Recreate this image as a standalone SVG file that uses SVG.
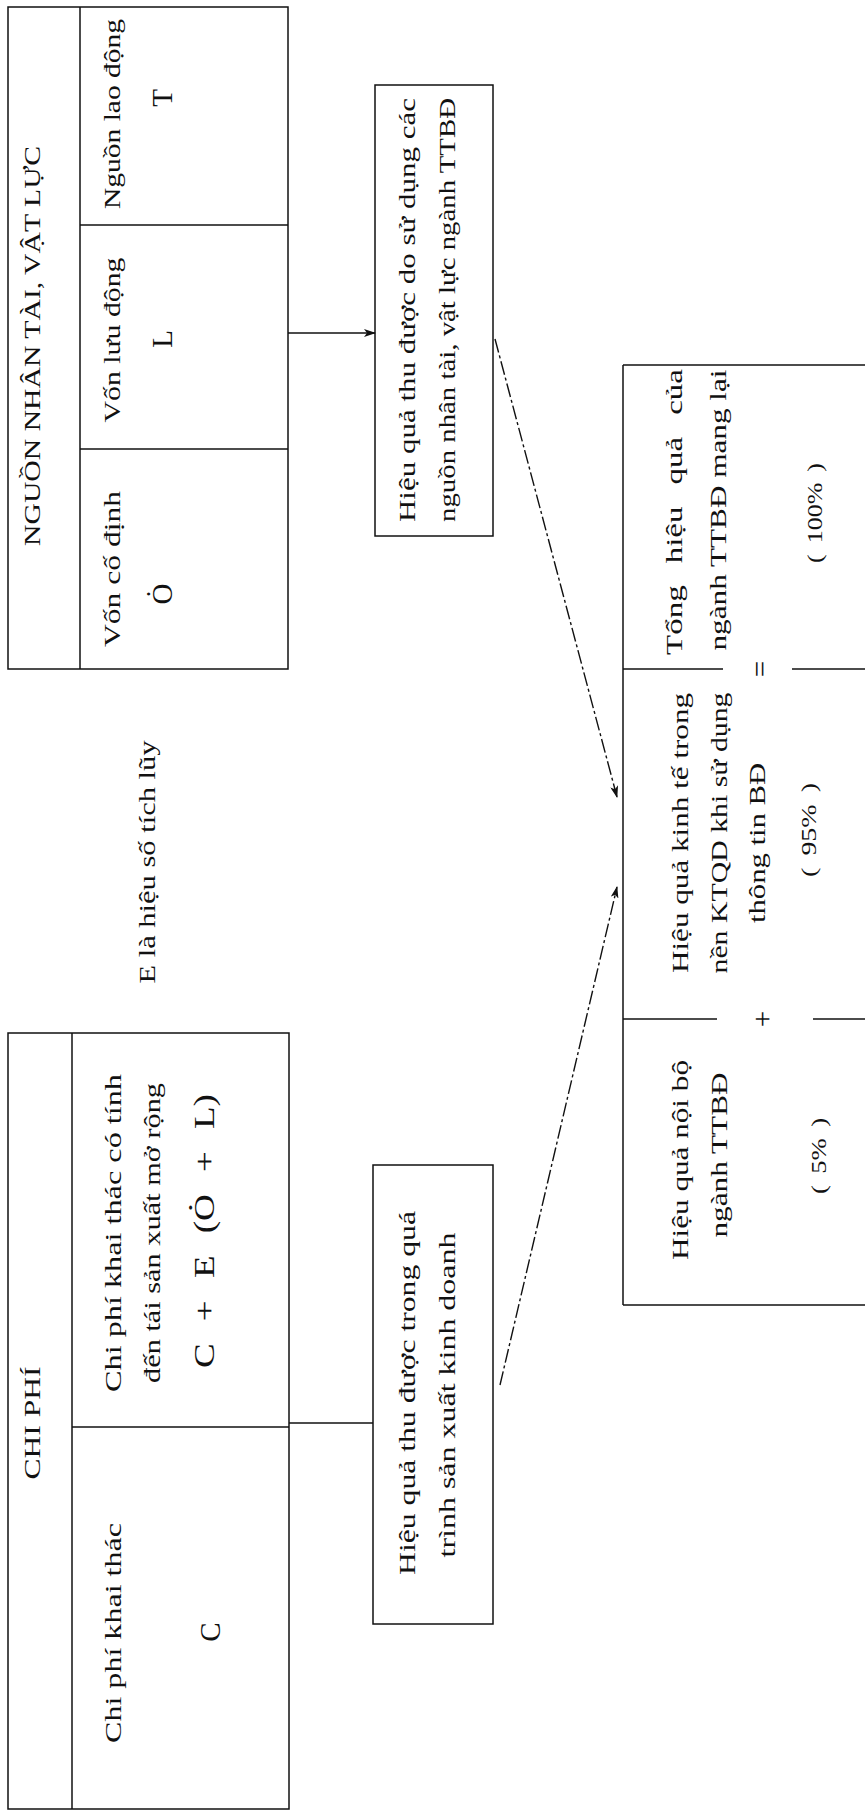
<svg xmlns="http://www.w3.org/2000/svg" width="865" height="1816" viewBox="0 0 865 1816">
<style>
.b{fill:none;stroke:#111;stroke-width:1.5}
.l{stroke:#111;stroke-width:1.5;fill:none}
.d{stroke:#111;stroke-width:1.4;fill:none;stroke-dasharray:14 3 3 3}
.t{font-family:"Liberation Serif","DejaVu Serif",serif;fill:#111;font-size:24px}
.h{font-family:"Liberation Serif","DejaVu Serif",serif;fill:#111;font-size:23px}
.p{font-family:"Liberation Serif","DejaVu Serif",serif;fill:#111;font-size:22px;word-spacing:4px}
.s{font-family:"Liberation Serif","DejaVu Serif",serif;fill:#111;font-size:29px}
</style>
<defs>
<marker id="ah" markerWidth="12" markerHeight="8" refX="11" refY="4" orient="auto" markerUnits="userSpaceOnUse">
<path d="M0,0 L12,4 L0,8 L3,4 Z" fill="#111"/>
</marker>
</defs>
<rect width="865" height="1816" fill="#fff"/>

<g id="nguon-nhan-tai">
<rect class="b" x="8" y="7" width="280" height="662"/>
<line class="l" x1="80" y1="7" x2="80" y2="669"/>
<line class="l" x1="80" y1="225" x2="288" y2="225"/>
<line class="l" x1="80" y1="449" x2="288" y2="449"/>
<text class="h" text-anchor="middle" transform="translate(40,346) rotate(-90)" textLength="400" lengthAdjust="spacingAndGlyphs">NGUỒN NHÂN TÀI, VẬT LỰC</text>
<text class="t" text-anchor="middle" transform="translate(120,114) rotate(-90)" textLength="190" lengthAdjust="spacingAndGlyphs">Nguồn lao động</text>
<text class="s" text-anchor="middle" transform="translate(172,98) rotate(-90)">T</text>
<text class="t" text-anchor="middle" transform="translate(120,340) rotate(-90)" textLength="165" lengthAdjust="spacingAndGlyphs">Vốn lưu động</text>
<text class="s" text-anchor="middle" transform="translate(172,339) rotate(-90)">L</text>
<text class="t" text-anchor="middle" transform="translate(120,569) rotate(-90)" textLength="156" lengthAdjust="spacingAndGlyphs">Vốn cố định</text>
<text class="s" text-anchor="middle" transform="translate(172,594) rotate(-90)">Ȯ</text>
</g>

<g id="chi-phi">
<rect class="b" x="8" y="1033" width="281" height="776"/>
<line class="l" x1="72" y1="1033" x2="72" y2="1809"/>
<line class="l" x1="72" y1="1427" x2="289" y2="1427"/>
<text class="h" text-anchor="middle" transform="translate(40,1423) rotate(-90)" textLength="113" lengthAdjust="spacingAndGlyphs">CHI PHÍ</text>
<text class="t" text-anchor="middle" transform="translate(121,1233) rotate(-90)" textLength="318" lengthAdjust="spacingAndGlyphs">Chi phí khai thác có tính</text>
<text class="t" text-anchor="middle" transform="translate(160,1233) rotate(-90)" textLength="300" lengthAdjust="spacingAndGlyphs">đến tái sản xuất mở rộng</text>
<text class="s" text-anchor="middle" style="word-spacing:10px" transform="translate(214,1231) rotate(-90)" textLength="274" lengthAdjust="spacingAndGlyphs">C + E (Ȯ + L)</text>
<text class="t" text-anchor="middle" transform="translate(121,1633) rotate(-90)" textLength="220" lengthAdjust="spacingAndGlyphs">Chi phí khai thác</text>
<text class="s" text-anchor="middle" transform="translate(220,1632) rotate(-90)">C</text>
</g>

<g id="ghi-chu">
<text class="t" text-anchor="middle" transform="translate(155,862) rotate(-90)" textLength="243" lengthAdjust="spacingAndGlyphs">E là hiệu số tích lũy</text>
</g>

<g id="hieu-qua-nguon-luc">
<rect class="b" x="375" y="85" width="118" height="451"/>
<text class="t" text-anchor="middle" transform="translate(415,310) rotate(-90)" textLength="424" lengthAdjust="spacingAndGlyphs">Hiệu quả thu được do sử dụng các</text>
<text class="t" text-anchor="middle" transform="translate(455,310) rotate(-90)" textLength="424" lengthAdjust="spacingAndGlyphs">nguồn nhân tài, vật lực ngành TTBĐ</text>
</g>

<g id="hieu-qua-sxkd">
<rect class="b" x="373" y="1165" width="120" height="459"/>
<text class="t" text-anchor="middle" transform="translate(415,1393) rotate(-90)" textLength="364" lengthAdjust="spacingAndGlyphs">Hiệu quả thu được trong quá</text>
<text class="t" text-anchor="middle" transform="translate(455,1395) rotate(-90)" textLength="325" lengthAdjust="spacingAndGlyphs">trình sản xuất kinh doanh</text>
</g>

<g id="tong-hieu-qua">
<line class="l" x1="623" y1="365" x2="865" y2="365"/>
<line class="l" x1="623" y1="365" x2="623" y2="1305"/>
<line class="l" x1="623" y1="1305" x2="865" y2="1305"/>
<line class="l" x1="623" y1="669" x2="723" y2="669"/>
<line class="l" x1="792" y1="669" x2="865" y2="669"/>
<line class="l" x1="623" y1="1019" x2="717" y2="1019"/>
<line class="l" x1="813" y1="1019" x2="865" y2="1019"/>
<text class="s" text-anchor="middle" transform="translate(770,669) rotate(-90)">=</text>
<text class="s" text-anchor="middle" transform="translate(772,1019) rotate(-90)">+</text>
<text class="t" text-anchor="middle" style="word-spacing:10px" transform="translate(682,512) rotate(-90)" textLength="286" lengthAdjust="spacingAndGlyphs">Tổng hiệu quả của</text>
<text class="t" text-anchor="middle" transform="translate(726,510) rotate(-90)" textLength="281" lengthAdjust="spacingAndGlyphs">ngành TTBĐ mang lại</text>
<text class="p" text-anchor="middle" transform="translate(822,513) rotate(-90)" textLength="100" lengthAdjust="spacingAndGlyphs">( 100% )</text>
<text class="t" text-anchor="middle" transform="translate(688,833) rotate(-90)" textLength="280" lengthAdjust="spacingAndGlyphs">Hiệu quả kinh tế trong</text>
<text class="t" text-anchor="middle" transform="translate(727,833) rotate(-90)" textLength="281" lengthAdjust="spacingAndGlyphs">nền KTQD khi sử dụng</text>
<text class="t" text-anchor="middle" transform="translate(765,843) rotate(-90)" textLength="160" lengthAdjust="spacingAndGlyphs">thông tin BĐ</text>
<text class="p" text-anchor="middle" transform="translate(816,830) rotate(-90)" textLength="94" lengthAdjust="spacingAndGlyphs">( 95% )</text>
<text class="t" text-anchor="middle" transform="translate(688,1160) rotate(-90)" textLength="200" lengthAdjust="spacingAndGlyphs">Hiệu quả nội bộ</text>
<text class="t" text-anchor="middle" transform="translate(727,1155) rotate(-90)" textLength="165" lengthAdjust="spacingAndGlyphs">ngành TTBĐ</text>
<text class="p" text-anchor="middle" transform="translate(826,1156) rotate(-90)" textLength="76" lengthAdjust="spacingAndGlyphs">( 5% )</text>
</g>

<g id="connectors">
<line class="l" x1="288" y1="333" x2="375" y2="333" marker-end="url(#ah)"/>
<line class="l" x1="289" y1="1423" x2="373" y2="1423"/>
<line class="d" x1="495" y1="339" x2="617" y2="797" marker-end="url(#ah)"/>
<line class="d" x1="500" y1="1385" x2="617" y2="887" marker-end="url(#ah)"/>
</g>
</svg>
